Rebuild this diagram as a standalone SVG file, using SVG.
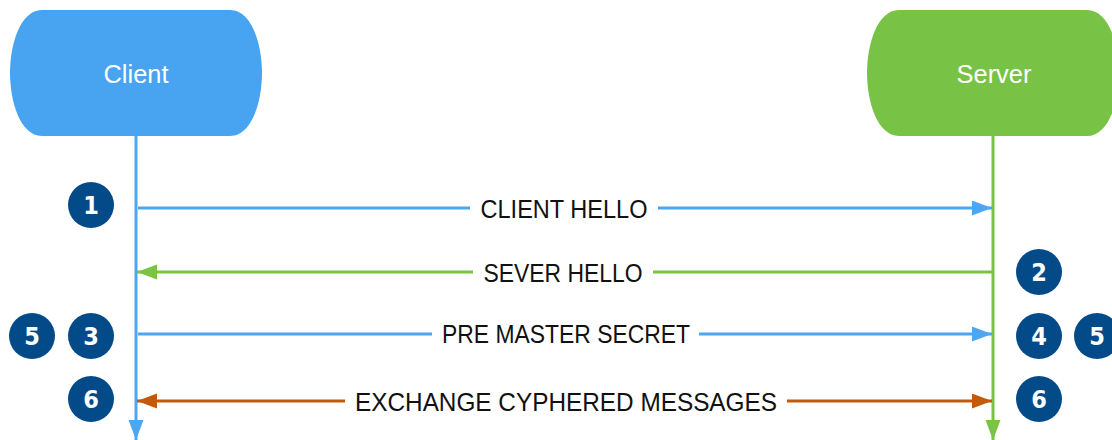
<svg xmlns="http://www.w3.org/2000/svg" width="1112" height="440" viewBox="0 0 1112 440">
<style>
.lbl{font-family:"Liberation Sans",Arial,sans-serif;font-size:25px;fill:#111;text-anchor:middle}
.ttl{font-family:"Liberation Sans",Arial,sans-serif;font-size:25px;fill:#fff;text-anchor:middle}
.num{font-family:"DejaVu Sans Condensed","Liberation Sans",sans-serif;font-weight:bold;font-size:25px;fill:#fff;text-anchor:middle}
.badge circle{fill:#034a89}
.blue{stroke:#4da6f2;stroke-width:3;fill:none}
.green{stroke:#7ac443;stroke-width:3;fill:none}
.orange{stroke:#c25a0a;stroke-width:3;fill:none}
</style>
<defs>
<marker id="ab" markerUnits="userSpaceOnUse" markerWidth="20" markerHeight="16" refX="20" refY="7.5" orient="auto-start-reverse"><path d="M0,0 L20,7.5 L0,15 Z" fill="#4da6f2"/></marker>
<marker id="ag" markerUnits="userSpaceOnUse" markerWidth="20" markerHeight="16" refX="20" refY="7.5" orient="auto-start-reverse"><path d="M0,0 L20,7.5 L0,15 Z" fill="#7ac443"/></marker>
<marker id="ao" markerUnits="userSpaceOnUse" markerWidth="20" markerHeight="16" refX="20" refY="7.5" orient="auto-start-reverse"><path d="M0,0 L20,7.5 L0,15 Z" fill="#c25a0a"/></marker>
</defs>
<g id="client">
<path d="M42,10 H230 C252,10 262,45 262,73 C262,101 252,136 230,136 H42 C20,136 10,101 10,73 C10,45 20,10 42,10 Z" fill="#48a3f0"/>
<text class="ttl" x="136" y="83" textLength="65" lengthAdjust="spacingAndGlyphs">Client</text>
</g>
<g id="server">
<path d="M899,10 H1087 C1109,10 1119,45 1119,73 C1119,101 1109,136 1087,136 H899 C877,136 867,101 867,73 C867,45 877,10 899,10 Z" fill="#78c346"/>
<text class="ttl" x="994" y="83" textLength="75" lengthAdjust="spacingAndGlyphs">Server</text>
</g>
<g id="connectors">
<line class="blue" x1="136" y1="136" x2="136" y2="440" marker-end="url(#ab)"/>
<line class="green" x1="993" y1="136" x2="993" y2="440" marker-end="url(#ag)"/>
<line class="blue" x1="138" y1="208" x2="470" y2="208"/>
<line class="blue" x1="658" y1="208" x2="992" y2="208" marker-end="url(#ab)"/>
<line class="green" x1="992" y1="272" x2="653" y2="272"/>
<line class="green" x1="473" y1="272" x2="137" y2="272" marker-end="url(#ag)"/>
<line class="blue" x1="138" y1="334" x2="432" y2="334"/>
<line class="blue" x1="699" y1="334" x2="992" y2="334" marker-end="url(#ab)"/>
<line class="orange" x1="137" y1="401" x2="345" y2="401" marker-start="url(#ao)"/>
<line class="orange" x1="787" y1="401" x2="992" y2="401" marker-end="url(#ao)"/>
</g>
<g id="labels">
<text class="lbl" x="564" y="218" textLength="167" lengthAdjust="spacingAndGlyphs">CLIENT HELLO</text>
<text class="lbl" x="563" y="282" textLength="159" lengthAdjust="spacingAndGlyphs">SEVER HELLO</text>
<text class="lbl" x="566" y="343" textLength="248" lengthAdjust="spacingAndGlyphs">PRE MASTER SECRET</text>
<text class="lbl" x="566" y="411" textLength="422" lengthAdjust="spacingAndGlyphs">EXCHANGE CYPHERED MESSAGES</text>
</g>
<g id="badge-1" class="badge"><circle cx="91" cy="205" r="23"/><text class="num" x="91" y="214">1</text></g>
<g id="badge-5-left" class="badge"><circle cx="32" cy="336" r="23"/><text class="num" x="32" y="345">5</text></g>
<g id="badge-3" class="badge"><circle cx="91" cy="336" r="23"/><text class="num" x="91" y="345">3</text></g>
<g id="badge-6-left" class="badge"><circle cx="91" cy="399" r="23"/><text class="num" x="91" y="408">6</text></g>
<g id="badge-2" class="badge"><circle cx="1039" cy="272" r="23"/><text class="num" x="1039" y="281">2</text></g>
<g id="badge-4" class="badge"><circle cx="1039" cy="336" r="23"/><text class="num" x="1039" y="345">4</text></g>
<g id="badge-5-right" class="badge"><circle cx="1097" cy="336" r="23"/><text class="num" x="1097" y="345">5</text></g>
<g id="badge-6-right" class="badge"><circle cx="1039" cy="399" r="23"/><text class="num" x="1039" y="408">6</text></g>
</svg>
